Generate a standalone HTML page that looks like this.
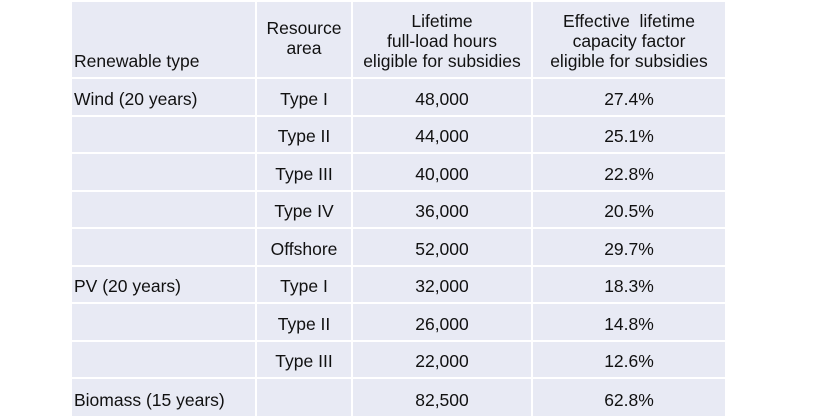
<!DOCTYPE html>
<html><head><meta charset="utf-8"><style>
body{margin:0;width:840px;height:420px;background:#fff;overflow:hidden;font-family:"Liberation Sans",sans-serif;color:#111;}
table{position:absolute;left:72px;top:2px;width:653px;border-collapse:collapse;background:#e8eaf4;font-size:17.5px;table-layout:fixed;}
td{border:2px solid #fff;padding:0 2px 6px 2px;vertical-align:bottom;text-align:center;line-height:20px;white-space:nowrap;}
tr{height:37.5px;}
tr.h{height:76px;}
td.l{text-align:left;}
table tr td:first-child{border-left:none}
table tr:first-child td{border-top:none}
table tr:last-child td{border-bottom:none}
table tr td:last-child{border-right:none}
</style></head><body>
<table>
<colgroup><col style="width:184px"><col style="width:96px"><col style="width:180px"><col style="width:193px"></colgroup>
<tr class="h"><td class="l">Renewable type</td><td style="vertical-align:top;padding-top:16px">Resource<br>area</td><td>Lifetime<br>full-load hours<br>eligible for subsidies</td><td>Effective&nbsp; lifetime<br>capacity factor<br>eligible for subsidies</td></tr>
<tr><td class="l">Wind (20 years)</td><td>Type I</td><td>48,000</td><td>27.4%</td></tr>
<tr><td></td><td>Type II</td><td>44,000</td><td>25.1%</td></tr>
<tr><td></td><td>Type III</td><td>40,000</td><td>22.8%</td></tr>
<tr><td></td><td>Type IV</td><td>36,000</td><td>20.5%</td></tr>
<tr><td></td><td>Offshore</td><td>52,000</td><td>29.7%</td></tr>
<tr><td class="l">PV (20 years)</td><td>Type I</td><td>32,000</td><td>18.3%</td></tr>
<tr><td></td><td>Type II</td><td>26,000</td><td>14.8%</td></tr>
<tr><td></td><td>Type III</td><td>22,000</td><td>12.6%</td></tr>
<tr><td class="l">Biomass (15 years)</td><td></td><td>82,500</td><td>62.8%</td></tr>
</table>
</body></html>
